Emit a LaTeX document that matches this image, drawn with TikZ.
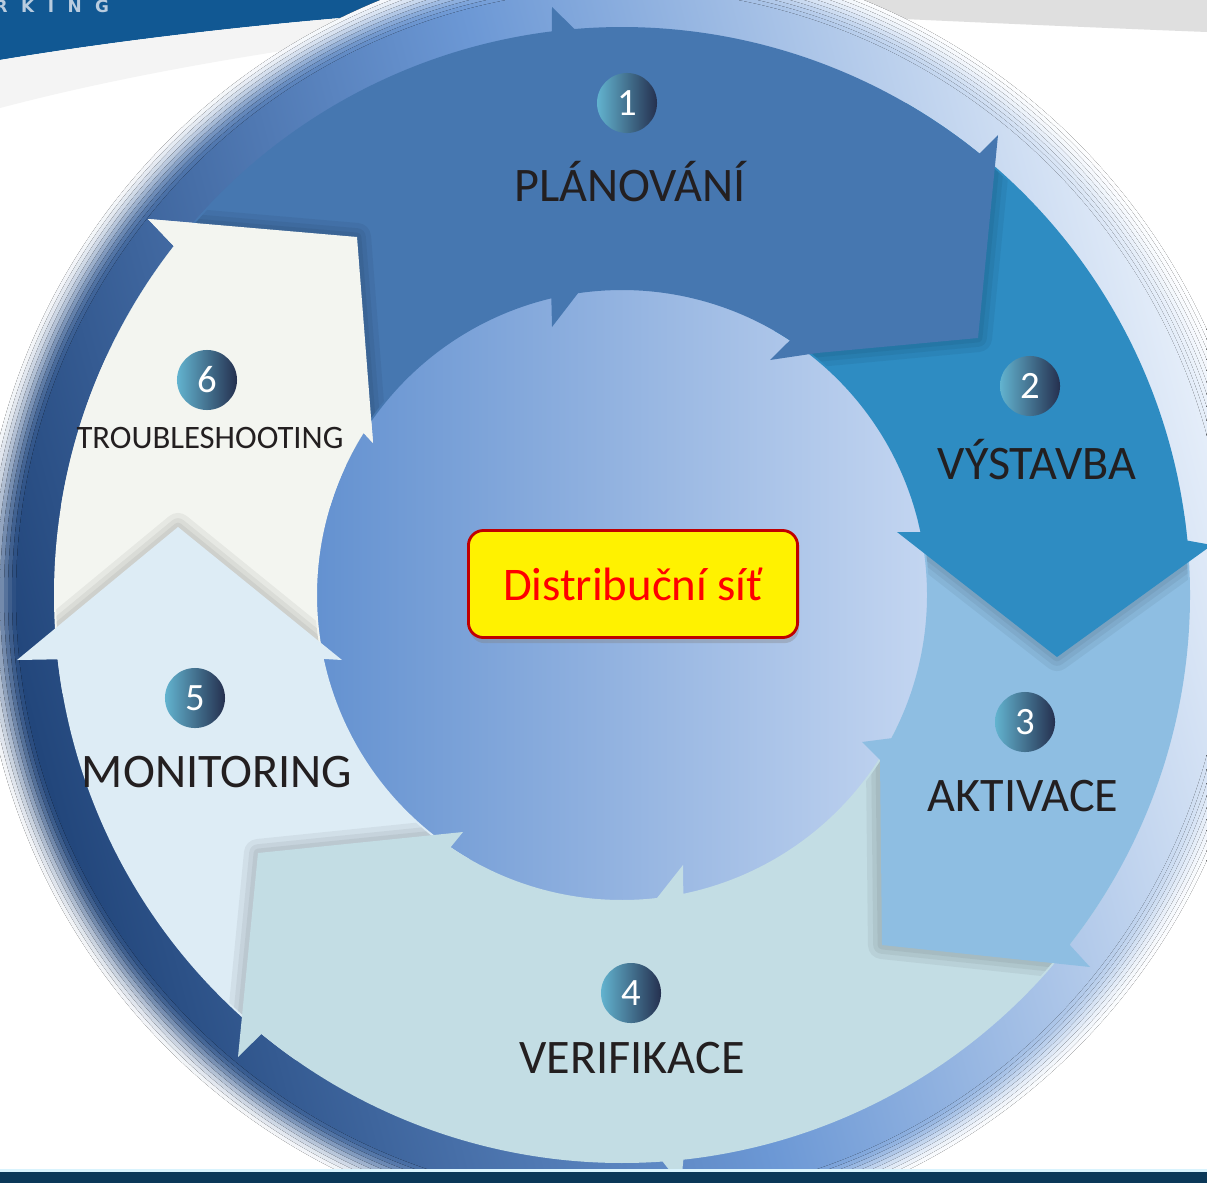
\documentclass[tikz,border=0pt]{standalone}
\usepackage{fontspec}
\setmainfont{Carlito}
\newfontfamily\logofont[LetterSpace=80]{DejaVu Sans}
\usetikzlibrary{shadows}

\definecolor{stepone}{HTML}{4677B0}
\definecolor{steptwo}{HTML}{2E8CC2}
\definecolor{stepthree}{HTML}{8EBEE2}
\definecolor{stepfour}{HTML}{C3DDE4}
\definecolor{stepfive}{HTML}{DDECF5}
\definecolor{stepsix}{HTML}{F3F5F0}
\definecolor{halodark}{HTML}{22467B}
\definecolor{halomid}{HTML}{6C98D5}
\definecolor{halolight}{HTML}{E4EDF9}
\definecolor{hubleft}{HTML}{6391D0}
\definecolor{hubmid}{HTML}{82AAE1}
\definecolor{hubright}{HTML}{C4D6F1}
\definecolor{badgeteal}{HTML}{62B3CF}
\definecolor{badgenavy}{HTML}{25304F}
\definecolor{banner}{HTML}{115893}
\definecolor{logotext}{HTML}{B9CCDF}
\definecolor{navybar}{HTML}{0B3858}
\definecolor{barmid}{HTML}{2E6EA5}
\definecolor{labeltext}{HTML}{231F20}
\definecolor{boxred}{HTML}{C00000}

% arrow outlines, relative to the centre of the ring
\newcommand{\pathone}{(-155:305) -- (-155:568) arc[start angle=-155, end angle=-97.1, radius=568]
    -- (-70,-588) -- (-94.8:568) arc[start angle=-94.8, end angle=-51, radius=568]
    -- (376,-460) -- (356,-257) -- (195,-242) -- (148,-235)
    -- (-56.6:305) arc[start angle=-56.6, end angle=-98.3, radius=305]
    -- (-70,-268) -- (-103.4:305) arc[start angle=-103.4, end angle=-155, radius=305] -- cycle}
\newcommand{\pathtwo}{(-60:305) -- (-60:568) arc[start angle=-60, end angle=-5.5, radius=568]
    -- (590,-50) -- (435,62) -- (275,-63)
    -- (-11.9:305) arc[start angle=-11.9, end angle=-60, radius=305] -- cycle}
\newcommand{\paththree}{(-14:305) -- (-8:568) arc[start angle=-8, end angle=38, radius=568]
    -- (468,372) -- (260,350) -- (258,165) -- (240,147)
    -- (28:305) arc[start angle=28, end angle=-14, radius=305] -- cycle}
\newcommand{\pathfour}{(25:305) -- (30:568) arc[start angle=30, end angle=83.8, radius=568]
    -- (59,590) -- (85.9:568) arc[start angle=85.9, end angle=129.4, radius=568]
    -- (-384,462) -- (-364,258) -- (-159,237)
    -- (124.2:305) arc[start angle=124.2, end angle=83.4, radius=305]
    -- (61,270) -- (78.4:305) arc[start angle=78.4, end angle=25, radius=305] -- cycle}
\newcommand{\pathfive}{(120:305) -- (125:568) arc[start angle=125, end angle=173.5, radius=568]
    -- (-605,65) -- (-444,-68) -- (-280,65)
    -- (167.9:305) arc[start angle=167.9, end angle=120, radius=305] -- cycle}
\newcommand{\pathsix}{(168:305) -- (170:568) arc[start angle=170, end angle=217.9, radius=568]
    -- (-474,-376) -- (-265,-358) -- (-249,-152)
    -- (212.1:305) arc[start angle=212.1, end angle=168, radius=305] -- cycle}
% soft shadow along the edge of an arrow end, kept inside the ring
\newcommand{\edgeshadow}[1]{%
    \begin{scope}[even odd rule]
        \clip (0,0) circle (566) (0,0) circle (307);
        \foreach \w in {8,5,2.5}
            \draw[edgeshade=\w pt] #1;
    \end{scope}}

\begin{document}
\begin{tikzpicture}[x=0.01cm, y=-0.01cm,
    halo/.style={shading=axis, left color=halodark!#1!white, right color=halolight!#1!white,
        middle color=halomid!#1!white, shading angle=105},
    edgeshade/.style={draw=black, line width=#1, opacity=0.05, line join=round},
    badge/.style={circle, minimum size=0.6cm, inner sep=0pt, left color=badgeteal, right color=badgenavy,
        text=white, font=\fontsize{11}{11}\selectfont},
    steplabel/.style={anchor=base, inner sep=0pt, text=labeltext, font=\fontsize{13.7}{15}\selectfont},
    hubbox/.style={draw=boxred, line width=0.8pt, fill=yellow, rounded corners=0.15cm,
        minimum width=3.29cm, minimum height=1.07cm, text=red, font=\fontsize{13.3}{15}\selectfont,
        drop shadow={opacity=0.35, shadow xshift=0.4pt, shadow yshift=-1.6pt}}]

    \useasboundingbox (0,0) rectangle (1207,1182);
    \fill[white] (0,0) rectangle (1207,1182);

    % page header
    \fill[banner] (0,0) -- (660,0) .. controls (420,6) and (180,30) .. (0,60) -- cycle;
    \fill[gray!9] (0,60) .. controls (180,30) and (420,6) .. (660,0) -- (760,0)
        .. controls (480,18) and (200,55) .. (0,108) -- cycle;
    \fill[gray!25] (620,0) -- (1207,0) -- (1207,32) .. controls (1000,24) and (800,14) .. (620,6) -- cycle;
    \node[anchor=base west, inner sep=0pt, text=logotext,
        font=\logofont\bfseries\fontsize{4.8}{5}\selectfont] (logo) at (-6,13) {RKING};

    \begin{scope}[shift={(622,595)}]
        % soft ring behind the arrows
        \foreach \p/\r in {6/642,14/638,24/634,36/630,50/626,64/622,77/618,88/614,96/610}
            \fill[halo=\p] (0,0) circle (\r);
        \fill[halo=100] (0,0) circle (606);
        \fill[left color=hubleft, middle color=hubmid, right color=hubright] (0,0) circle (310);

        % the six arrows, each one over the tail of the next
        \fill[stepsix] \pathsix;
        \edgeshadow{(-605,65) -- (-444,-68) -- (-280,65)}
        \fill[stepfive] \pathfive;
        \edgeshadow{(-159,237) -- (-364,258) -- (-384,462)}
        \fill[stepfour] \pathfour;
        \edgeshadow{(240,147) -- (258,165) -- (260,350) -- (468,372)}
        \fill[stepthree] \paththree;
        \edgeshadow{(590,-50) -- (435,62) -- (275,-63)}
        \fill[steptwo] \pathtwo;
        \edgeshadow{(376,-460) -- (356,-257) -- (195,-242) -- (148,-235)}
        \fill[stepone] \pathone;
        % head of arrow 6 lies over the tail of arrow 1
        \begin{scope}
            \clip (-700,-700) rectangle (0,-90);
            \edgeshadow{(-474,-376) -- (-265,-358) -- (-249,-152)}
            \fill[stepsix] \pathsix;
        \end{scope}
    \end{scope}

    % numbers and names of the steps
    \node[badge] (num1) at (627,103) {1};
    \node[badge] (num2) at (1030,386) {2};
    \node[badge] (num3) at (1025,722) {3};
    \node[badge] (num4) at (631,993) {4};
    \node[badge] (num5) at (195,698) {5};
    \node[badge] (num6) at (207,380) {6};

    \node[steplabel] (plan) at (630,201) {PLÁNOVÁNÍ};
    \node[steplabel] (build) at (1037,479) {VÝSTAVBA};
    \node[steplabel] (activ) at (1023,811) {AKTIVACE};
    \node[steplabel] (verif) at (632,1073) {VERIFIKACE};
    \node[steplabel] (monit) at (217,787) {MONITORING};
    \node[steplabel, font=\fontsize{9.3}{11}\selectfont] (trouble) at (210,448) {TROUBLESHOOTING};

    \node[hubbox] (hub) at (633,584) {Distribuční síť};

    % page footer
    \fill[white!85!cyan] (0,1169) rectangle (1207,1172);
    \fill[left color=navybar, middle color=barmid, right color=navybar] (0,1172) rectangle (1207,1182);
\end{tikzpicture}
\end{document}
